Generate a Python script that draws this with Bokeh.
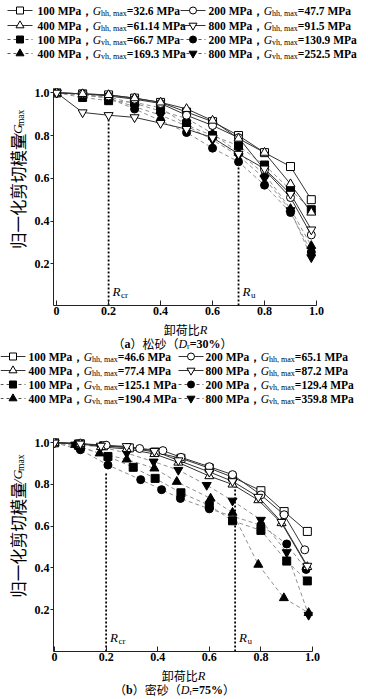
import math
from bokeh.plotting import figure
from bokeh.layouts import column, row
from bokeh.models import Range1d, FixedTicker, PrintfTickFormatter, CustomJSTickFormatter
from bokeh.core.properties import value
from bokeh.embed import file_html
from bokeh.resources import INLINE

# ---------------- data ----------------
# (a) loose sand, Dr = 30 %
R_a = [0.0, 0.1, 0.2, 0.3, 0.4, 0.5, 0.6, 0.7, 0.8, 0.9, 0.98]
a_hh_100 = [1.0, 0.995, 0.99, 0.975, 0.955, 0.91, 0.865, 0.80, 0.72, 0.655, 0.50]
a_hh_200 = [1.0, 0.995, 0.985, 0.97, 0.95, 0.895, 0.847, 0.79, 0.64, 0.51, 0.335]
a_hh_400 = [1.0, 0.995, 0.99, 0.975, 0.955, 0.925, 0.87, 0.786, 0.72, 0.573, 0.44]
a_hh_800 = [1.0, 0.908, 0.895, 0.885, 0.858, 0.83, 0.79, 0.714, 0.645, 0.527, 0.36]
a_vh_100 = [1.0, 0.978, 0.963, 0.955, 0.93, 0.849, 0.80, 0.752, 0.662, 0.546, 0.453]
a_vh_200 = [1.0, 0.99, 0.975, 0.924, 0.87, 0.814, 0.741, 0.677, 0.568, 0.44, 0.255]
a_vh_400 = [1.0, 0.99, 0.98, 0.95, 0.915, 0.88, 0.81, 0.72, 0.62, 0.457, 0.284]
a_vh_800 = [1.0, 0.99, 0.975, 0.935, 0.895, 0.845, 0.78, 0.705, 0.60, 0.45, 0.23]

# (b) dense sand, Dr = 75 %
b_hh_100_R = [0.0, 0.1, 0.19, 0.29, 0.39, 0.49, 0.6, 0.69, 0.8, 0.89, 0.98]
b_hh_100 = [1.0, 0.995, 0.985, 0.975, 0.955, 0.925, 0.878, 0.835, 0.77, 0.67, 0.575]
b_hh_200_R = [0.0, 0.1, 0.2, 0.33, 0.42, 0.49, 0.6, 0.69, 0.8, 0.89, 0.97]
b_hh_200 = [1.0, 0.995, 0.988, 0.972, 0.962, 0.93, 0.885, 0.847, 0.75, 0.655, 0.487]
b_hh_400_R = [0.0, 0.1, 0.18, 0.28, 0.387, 0.48, 0.6, 0.69, 0.79, 0.88, 0.98]
b_hh_400 = [1.0, 0.995, 0.98, 0.97, 0.946, 0.905, 0.84, 0.80, 0.725, 0.615, 0.405]
b_hh_800_R = [0.0, 0.1, 0.18, 0.28, 0.387, 0.48, 0.6, 0.69, 0.79, 0.88, 0.98]
b_hh_800 = [1.0, 0.995, 0.985, 0.983, 0.96, 0.915, 0.86, 0.815, 0.74, 0.62, 0.41]
b_vh_100_R = [0.0, 0.1, 0.207, 0.305, 0.39, 0.49, 0.6, 0.69, 0.8, 0.9, 0.98]
b_vh_100 = [1.0, 0.98, 0.934, 0.882, 0.829, 0.76, 0.70, 0.626, 0.58, 0.433, 0.338]
b_vh_200_R = [0.0, 0.1, 0.207, 0.334, 0.415, 0.488, 0.6, 0.8, 0.9, 0.975]
b_vh_200 = [1.0, 0.966, 0.893, 0.823, 0.775, 0.733, 0.683, 0.605, 0.515, 0.393]
b_vh_400_R = [0.0, 0.08, 0.175, 0.28, 0.387, 0.474, 0.605, 0.69, 0.79, 0.889, 0.985]
b_vh_400 = [1.0, 0.99, 0.949, 0.92, 0.877, 0.813, 0.733, 0.665, 0.416, 0.256, 0.185]
b_vh_800_R = [0.0, 0.08, 0.18, 0.28, 0.384, 0.48, 0.59, 0.69, 0.8, 0.9, 0.985]
b_vh_800 = [1.0, 0.99, 0.98, 0.95, 0.909, 0.869, 0.797, 0.722, 0.63, 0.475, 0.175]

levels = ["100 MPa", "200 MPa", "400 MPa", "800 MPa"]
a_Ghh_max = ["32.6", "47.7", "61.14", "91.5"]
a_Gvh_max = ["66.7", "130.9", "169.3", "252.5"]
b_Ghh_max = ["46.6", "65.1", "77.4", "87.2"]
b_Gvh_max = ["125.1", "129.4", "190.4", "359.8"]
R_cr = 0.2
R_u = 0.7
x_ticks = [0.0, 0.2, 0.4, 0.6, 0.8, 1.0]
y_ticks = [0.2, 0.4, 0.6, 0.8, 1.0]

# ---------------- style ----------------
SERIF = "Liberation Serif"
CJK = "Noto Sans CJK SC"
SOLID = "#333333"
DASHC = "#8f8f8f"
MARKERS = ["square", "circle", "triangle", "inverted_triangle"]
MSIZE = {"square": 8, "circle": 8, "triangle": 9, "inverted_triangle": 9}
W = 368

W_REG = {' ': .25, '.': .25, ',': .25, '=': .564, '%': .833, 'M': .889, 'P': .556, 'a': .444,
         'h': .5, 'm': .778, 'x': .5, 'c': .444, 'r': .333, 'u': .5, 'v': .5, 'G': .722,
         'D': .722, 'R': .667, '/': .278, 'b': .5}
W_BOLD = {' ': .25, '.': .25, '=': .57, '%': 1.0, 'M': .944, 'P': .611, 'a': .5, 'b': .556}
W_IT = {'G': .722, 'D': .722, 'R': .611, '/': .278}


def tw(s, size, style):
    t = 0.0
    for ch in s:
        if ord(ch) > 0x2E80:
            t += 1.0
        elif ch.isdigit():
            t += 0.5
        else:
            tab = W_BOLD if style == "bold" else (W_IT if style == "italic" else W_REG)
            t += tab.get(ch, W_REG.get(ch, 0.5))
    return t * size


def run(p, x, y, pieces, angle=0.0, align="left", gap=0.0):
    """pieces: (text, size, font, style, shift-down-px)"""
    total = sum(tw(t, s, st) for t, s, f, st, sh in pieces) + gap * (len(pieces) - 1)
    pos = (x if angle == 0 else y)
    if align == "center":
        pos -= total / 2
    for t, s, f, st, sh in pieces:
        wdt = tw(t, s, st)
        if angle == 0:
            px, py = pos, y - sh
        else:
            px, py = x + sh, pos
        p.text(x=[px], y=[py], text=[t], angle=angle, text_font=value(f),
               text_font_size=value(f"{s}px"), text_font_style=value(st),
               text_baseline="middle", text_align="left", text_color="black")
        pos += wdt + gap


def canvas(w, h):
    p = figure(width=w, height=h, x_range=Range1d(0, w), y_range=Range1d(0, h),
               output_backend="svg", toolbar_location=None,
               x_axis_location=None, y_axis_location=None,
               min_border_left=0, min_border_right=0, min_border_top=0, min_border_bottom=0)
    p.grid.visible = False
    p.outline_line_color = None
    return p


ITEMS = [(0, 0, 0, False, "hh"), (0, 1, 1, False, "hh"),
         (1, 0, 2, False, "hh"), (1, 1, 3, False, "hh"),
         (2, 0, 0, True, "vh"), (2, 1, 1, True, "vh"),
         (3, 0, 2, True, "vh"), (3, 1, 3, True, "vh")]


def draw_legend(p, h, rows_y, col_sym, col_txt, ghh, gvh):
    for r, c, k, filled, sub in ITEMS:
        vals = gvh if filled else ghh
        y = h - rows_y[r]
        x0 = col_sym[c]
        m = MARKERS[k]
        if filled:
            p.segment(x0=[x0], y0=[y], x1=[x0 + 25], y1=[y], line_color="#555555",
                      line_width=1, line_dash="3 3")
            p.scatter(x=[x0 + 12.5], y=[y], marker=m, size=MSIZE[m] - 1,
                      fill_color="black", line_color="black")
        else:
            p.segment(x0=[x0], y0=[y], x1=[x0 + 25], y1=[y], line_color=SOLID, line_width=1)
            p.scatter(x=[x0 + 12.5], y=[y], marker=m, size=MSIZE[m] - 1,
                      fill_color="white", line_color="black", line_width=1)
        run(p, col_txt[c], y, [
            (levels[k] + "，", 11.5, SERIF, "bold", 0),
            ("G", 11.5, SERIF, "italic", 0),
            (sub + ", max", 8, SERIF, "normal", 3),
            ("=" + vals[k] + " MPa", 11.5, SERIF, "bold", 0),
        ])


def draw_caption(p, h, y_xl, x_xl, y_cap, x_cap, tag, name, dr):
    run(p, x_xl, h - y_xl, [("卸荷比", 12, CJK, "normal", 0), ("R", 12.5, SERIF, "italic", 0)],
        align="center")
    run(p, x_cap, h - y_cap, [
        ("（", 12, CJK, "normal", 0), (tag, 12, SERIF, "bold", 0),
        ("）" + name + "（", 12, CJK, "normal", 0),
        ("D", 12, SERIF, "italic", 0), ("r", 8, SERIF, "normal", 3),
        ("=" + dr, 12, SERIF, "bold", 0), ("）", 12, CJK, "normal", 0)], align="center")


def ylabel_fig(w, h, xc, ybottom):
    p = canvas(w, h)
    run(p, xc, ybottom, [
        ("归一化剪切模量", 16.5, CJK, "normal", 0),
        ("G/G", 13.5, SERIF, "italic", 0),
        ("max", 9.5, SERIF, "normal", 3.5),
    ], angle=math.pi / 2, gap=1.5)
    return p


def main_plot(w, h, xr, yr, bl, br, bt, bb, hh, vh, rmarks):
    p = figure(width=w, height=h, x_range=Range1d(*xr), y_range=Range1d(*yr),
               output_backend="svg", toolbar_location=None,
               min_border_left=bl, min_border_right=br, min_border_top=bt, min_border_bottom=bb)
    p.grid.visible = False
    p.outline_line_color = None
    for ax in (p.xaxis[0], p.yaxis[0]):
        ax.axis_line_color = "#222222"
        ax.major_tick_line_color = "#222222"
        ax.minor_tick_line_color = None
        ax.major_label_text_font = SERIF
        ax.major_label_text_font_style = "bold"
        ax.major_label_text_font_size = "12px"
        ax.major_label_text_color = "black"
        ax.major_label_standoff = 1
    p.xaxis.ticker = FixedTicker(ticks=x_ticks)
    p.xaxis.formatter = CustomJSTickFormatter(code="return tick == 0 ? '0' : tick.toFixed(1);")
    p.xaxis.major_tick_in = 5
    p.xaxis.major_tick_out = 0
    p.yaxis.ticker = FixedTicker(ticks=y_ticks)
    p.yaxis.formatter = PrintfTickFormatter(format="%.1f")
    p.yaxis.major_tick_in = 0
    p.yaxis.major_tick_out = 3

    for xv, top in rmarks:
        p.segment(x0=[xv], y0=[yr[0]], x1=[xv], y1=[top], line_color="black",
                  line_width=1.8, line_dash="2 2")
    for xs, ys in vh:
        p.line(xs, ys, line_color=DASHC, line_width=1, line_dash="4 3")
    for xs, ys in hh:
        p.line(xs, ys, line_color=SOLID, line_width=1)
    for k, (xs, ys) in enumerate(vh):
        m = MARKERS[k]
        p.scatter(xs, ys, marker=m, size=MSIZE[m], fill_color="black", line_color="black")
    for k, (xs, ys) in enumerate(hh):
        m = MARKERS[k]
        p.scatter(xs, ys, marker=m, size=MSIZE[m], fill_color="white", line_color="black",
                  line_width=1)
    xs_per_px = (xr[1] - xr[0]) / (w - bl - br)
    ys_per_px = (yr[1] - yr[0]) / (h - bt - bb)
    ylab = yr[0] + 14 * ys_per_px
    for xv, sub in ((R_cr, "cr"), (R_u, "u")):
        x0 = xv + 4 * xs_per_px
        p.text(x=[x0], y=[ylab], text=["R"], text_font=value(SERIF), text_font_style="italic",
               text_font_size="13px", text_baseline="middle", text_align="left", text_color="black")
        p.text(x=[x0 + 8.5 * xs_per_px], y=[ylab - 3.5 * ys_per_px], text=[sub],
               text_font=value(SERIF), text_font_size="9px", text_baseline="middle",
               text_align="left", text_color="black")
    return p


YLW = 31

legA = canvas(W, 70)
draw_legend(legA, 70, [10, 25, 39, 53], [7, 180], [37, 208], a_Ghh_max, a_Gvh_max)
ylabA = ylabel_fig(YLW, 250, 17, 65)
plotA = main_plot(W - YLW, 250, (-0.012, 1.0), (0.005, 1.02), 19, W - YLW - 19 - 266, 18, 15,
                  [(R_a, a_hh_100), (R_a, a_hh_200), (R_a, a_hh_400), (R_a, a_hh_800)],
                  [(R_a, a_vh_100), (R_a, a_vh_200), (R_a, a_vh_400), (R_a, a_vh_800)],
                  [(R_cr, 0.88), (R_u, 0.66)])

mid = canvas(W, 108)
draw_caption(mid, 108, 9, 185, 23, 172, "a", "松砂", "30%")
draw_legend(mid, 108, [36, 50, 64, 78], [0, 178], [28, 205], b_Ghh_max, b_Gvh_max)

ylabB = ylabel_fig(YLW, 238, 17, 60)
plotB = main_plot(W - YLW, 238, (-0.004, 1.0), (0.0, 1.02), 19, W - YLW - 19 - 262, 10, 15,
                  [(b_hh_100_R, b_hh_100), (b_hh_200_R, b_hh_200),
                   (b_hh_400_R, b_hh_400), (b_hh_800_R, b_hh_800)],
                  [(b_vh_100_R, b_vh_100), (b_vh_200_R, b_vh_200),
                   (b_vh_400_R, b_vh_400), (b_vh_800_R, b_vh_800)],
                  [(R_cr, 0.86), (R_u, 0.84)])
capB = canvas(W, 32)
draw_caption(capB, 32, 9, 183, 23, 174, "b", "密砂", "75%")

layout = column(legA, row(ylabA, plotA), mid, row(ylabB, plotB), capB)
open("out.html", "w").write(file_html(layout, INLINE))
